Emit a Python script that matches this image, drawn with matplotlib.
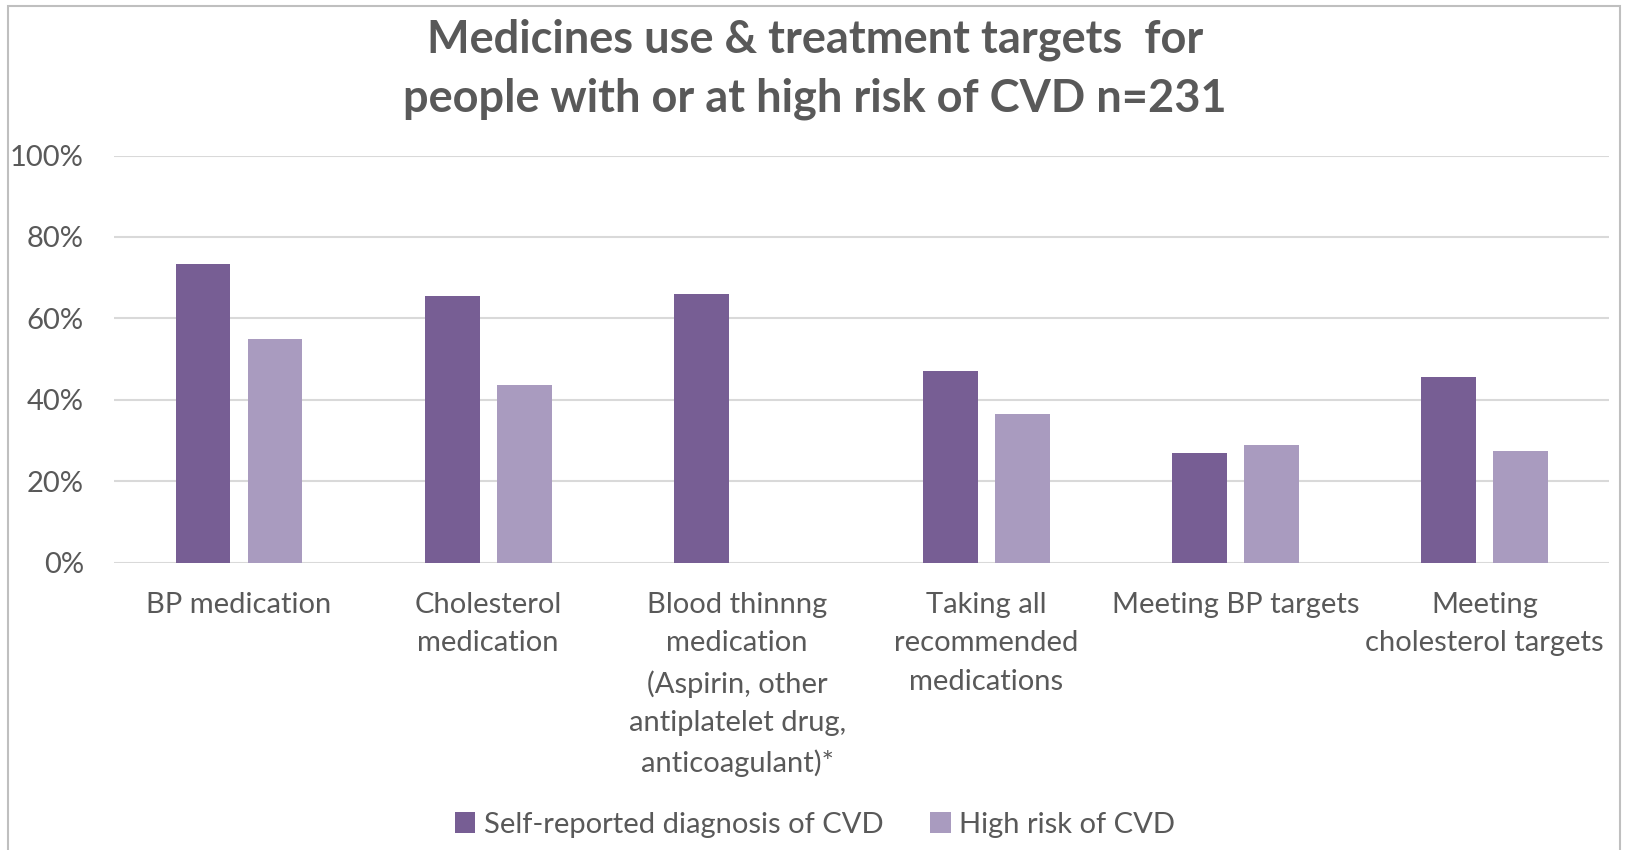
import numpy as np
import matplotlib.pyplot as plt
from matplotlib.ticker import PercentFormatter

plt.rcParams['font.family'] = ['Lato', 'DejaVu Sans']

categories = [
    "BP medication",
    "Cholesterol\nmedication",
    "Blood thinnng\nmedication\n(Aspirin, other\nantiplatelet drug,\nanticoagulant)*",
    "Taking all\nrecommended\nmedications",
    "Meeting BP targets",
    "Meeting\ncholesterol targets",
]
self_reported = [0.734, 0.655, 0.661, 0.472, 0.269, 0.457]
high_risk = [0.550, 0.437, 0.0, 0.364, 0.289, 0.274]
series_names = ["Self-reported diagnosis of CVD", "High risk of CVD"]

dark = '#775e94'
light = '#a99bbf'
grey = '#595959'

fig = plt.figure(figsize=(16.3, 8.5), dpi=100)
fig.patch.set_facecolor('white')
ax = fig.add_axes([0.0702, 0.338, 0.917, 0.479])

x = np.arange(len(categories))
w = 0.22
off = 0.1445
b1 = ax.bar(x - off, self_reported, w, color=dark, label=series_names[0], zorder=3)
# no high-risk bar for blood thinners
hr = [v if v > 0 else np.nan for v in high_risk]
b2 = ax.bar(x + off, hr, w, color=light, label=series_names[1], zorder=3)

ax.set_xlim(-0.5, len(categories) - 0.5)
ax.set_ylim(0, 1)
ax.set_yticks(np.arange(0, 1.01, 0.2))
ax.yaxis.set_major_formatter(PercentFormatter(1.0, decimals=0))
ax.grid(axis='y', color='#d9d9d9', linewidth=1.5, zorder=0)
for s in ax.spines.values():
    s.set_visible(False)
ax.tick_params(axis='both', length=0, labelsize=21, labelcolor=grey)
ax.tick_params(axis='y', pad=22)
ax.set_xticks(x)
ax.set_xticklabels(categories, linespacing=1.6, va='top')
ax.tick_params(axis='x', pad=21)

fig.suptitle("Medicines use & treatment targets  for\npeople with or at high risk of CVD n=231",
             x=0.5, y=0.978, fontsize=32.5, fontweight='bold', color=grey,
             linespacing=1.48, va='top')

fig.legend(handles=[b1, b2], loc='center', bbox_to_anchor=(0.5, 0.03),
           ncol=2, frameon=False, fontsize=21, labelcolor=grey,
           handlelength=0.7, handleheight=0.7, handletextpad=0.3, columnspacing=1.6)

# light frame round the chart
fig.add_artist(plt.Rectangle((0.005, -0.01), 0.989, 1.003, transform=fig.transFigure,
                             fill=False, edgecolor='#bfbfbf', linewidth=1.5))

fig.savefig('out.png', dpi=100, facecolor='white')
